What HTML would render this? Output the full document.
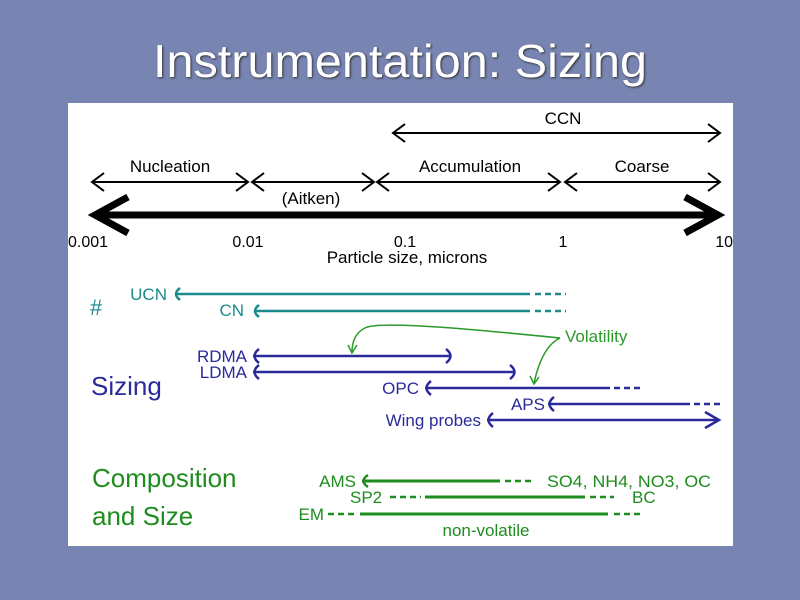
<!DOCTYPE html>
<html><head><meta charset="utf-8"><style>
html,body{margin:0;padding:0;background:#7382ad;width:800px;height:600px;overflow:hidden}
svg{display:block}
</style></head><body>
<svg width="800" height="600" viewBox="0 0 800 600" font-family="Liberation Sans, sans-serif">
<rect width="800" height="600" fill="#7885b2"/>
<text x="400" y="77" font-size="46" fill="#fff" text-anchor="middle" textLength="494" lengthAdjust="spacingAndGlyphs" style="text-shadow:1px 1px 2px #333">Instrumentation: Sizing</text>
<rect x="68" y="103" width="665" height="443" fill="#fff"/>
<g stroke="#000" fill="none" stroke-width="2">
<line x1="393" y1="133" x2="720" y2="133"/><polyline points="405,124 393,133 405,142"/><polyline points="708,124 720,133 708,142"/>
<line x1="92" y1="182" x2="248" y2="182"/><polyline points="104,173 92,182 104,191"/><polyline points="236,173 248,182 236,191"/>
<line x1="252" y1="182" x2="374" y2="182"/><polyline points="264,173 252,182 264,191"/><polyline points="362,173 374,182 362,191"/>
<line x1="377" y1="182" x2="560" y2="182"/><polyline points="389,173 377,182 389,191"/><polyline points="548,173 560,182 548,191"/>
<line x1="565" y1="182" x2="720" y2="182"/><polyline points="577,173 565,182 577,191"/><polyline points="708,173 720,182 708,191"/>
<g stroke-width="7"><line x1="95" y1="215" x2="718" y2="215"/><polyline points="128,197 95,215 128,233"/><polyline points="685,197 718,215 685,233"/></g>
</g>
<g font-size="17" fill="#000">
<text x="563" y="124" text-anchor="middle">CCN</text>
<text x="170" y="172" text-anchor="middle">Nucleation</text>
<text x="311" y="204" text-anchor="middle">(Aitken)</text>
<text x="470" y="172" text-anchor="middle">Accumulation</text>
<text x="642" y="172" text-anchor="middle">Coarse</text>
<g font-size="16">
<text x="68" y="247">0.001</text>
<text x="248" y="247" text-anchor="middle">0.01</text>
<text x="405" y="247" text-anchor="middle">0.1</text>
<text x="563" y="247" text-anchor="middle">1</text>
<text x="733" y="247" text-anchor="end">10</text>
</g>
<text x="407" y="263" text-anchor="middle">Particle size, microns</text>
</g>
<g stroke="#1a8a8c" stroke-width="2.5" fill="none">
<line x1="176" y1="294" x2="530" y2="294"/><line x1="535" y1="294" x2="566" y2="294" stroke-dasharray="6,4"/>
<path d="M180,288 Q172,294 180,300"/>
<line x1="255" y1="311" x2="530" y2="311"/><line x1="535" y1="311" x2="566" y2="311" stroke-dasharray="6,4"/>
<path d="M259,305 Q251,311 259,317"/>
</g>
<g fill="#1a8a8c" font-size="17">
<text x="167" y="300" text-anchor="end">UCN</text>
<text x="244" y="316" text-anchor="end">CN</text>
<text x="90" y="315" font-size="22">#</text>
</g>
<g stroke="#2a9a2a" stroke-width="1.5" fill="none">
<path d="M560,338 C480,330 380,320 365,328 C355,333 352,342 352,352"/>
<polyline points="348,345 352,353 357,345"/>
<path d="M560,338 C545,345 538,365 534,383"/>
<polyline points="530,376 534,384 539,377"/>
</g>
<text x="565" y="342" font-size="17" fill="#2a9a2a">Volatility</text>
<g stroke="#2a2a9a" stroke-width="2.5" fill="none">
<line x1="253" y1="356" x2="451" y2="356"/><path d="M259,349 Q250,356 259,363"/><path d="M446,349 Q455,356 446,363"/>
<line x1="253" y1="372" x2="515" y2="372"/><path d="M259,365 Q250,372 259,379"/><path d="M510,365 Q519,372 510,379"/>
<line x1="425" y1="388" x2="610" y2="388"/><line x1="614" y1="388" x2="642" y2="388" stroke-dasharray="6,4"/><path d="M431,381 Q422,388 431,395"/>
<line x1="548" y1="404" x2="690" y2="404"/><line x1="694" y1="404" x2="721" y2="404" stroke-dasharray="6,4"/><path d="M554,397 Q545,404 554,411"/>
<line x1="487" y1="420" x2="718" y2="420"/><path d="M493,413 Q484,420 493,427"/><polyline points="705,412 719,420 705,428"/>
</g>
<g fill="#2a2a9a" font-size="17">
<text x="247" y="362" text-anchor="end">RDMA</text>
<text x="247" y="378" text-anchor="end">LDMA</text>
<text x="419" y="394" text-anchor="end">OPC</text>
<text x="545" y="410" text-anchor="end">APS</text>
<text x="481" y="426" text-anchor="end">Wing probes</text>
<text x="91" y="395" font-size="26">Sizing</text>
</g>
<g stroke="#1e8c1e" stroke-width="3" fill="none">
<line x1="362" y1="481" x2="500" y2="481"/><line x1="505" y1="481" x2="532" y2="481" stroke-dasharray="6,4" stroke-width="2.5"/><path d="M368,475 Q359,481 368,487" stroke-width="2.5"/>
<line x1="390" y1="497" x2="421" y2="497" stroke-dasharray="6,4" stroke-width="2.5"/><line x1="425" y1="497" x2="585" y2="497"/><line x1="590" y1="497" x2="614" y2="497" stroke-dasharray="6,4" stroke-width="2.5"/>
<line x1="328" y1="514" x2="356" y2="514" stroke-dasharray="6,4" stroke-width="2.5"/><line x1="360" y1="514" x2="608" y2="514"/><line x1="614" y1="514" x2="642" y2="514" stroke-dasharray="6,4" stroke-width="2.5"/>
</g>
<g fill="#1e8c1e" font-size="17">
<text x="356" y="487" text-anchor="end">AMS</text>
<text x="547" y="487" textLength="164" lengthAdjust="spacingAndGlyphs">SO4, NH4, NO3, OC</text>
<text x="350" y="503">SP2</text>
<text x="632" y="503">BC</text>
<text x="324" y="520" text-anchor="end">EM</text>
<text x="486" y="536" text-anchor="middle">non-volatile</text>
<text x="92" y="487" font-size="26">Composition</text>
<text x="92" y="525" font-size="26">and Size</text>
</g>
</svg>
</body></html>
